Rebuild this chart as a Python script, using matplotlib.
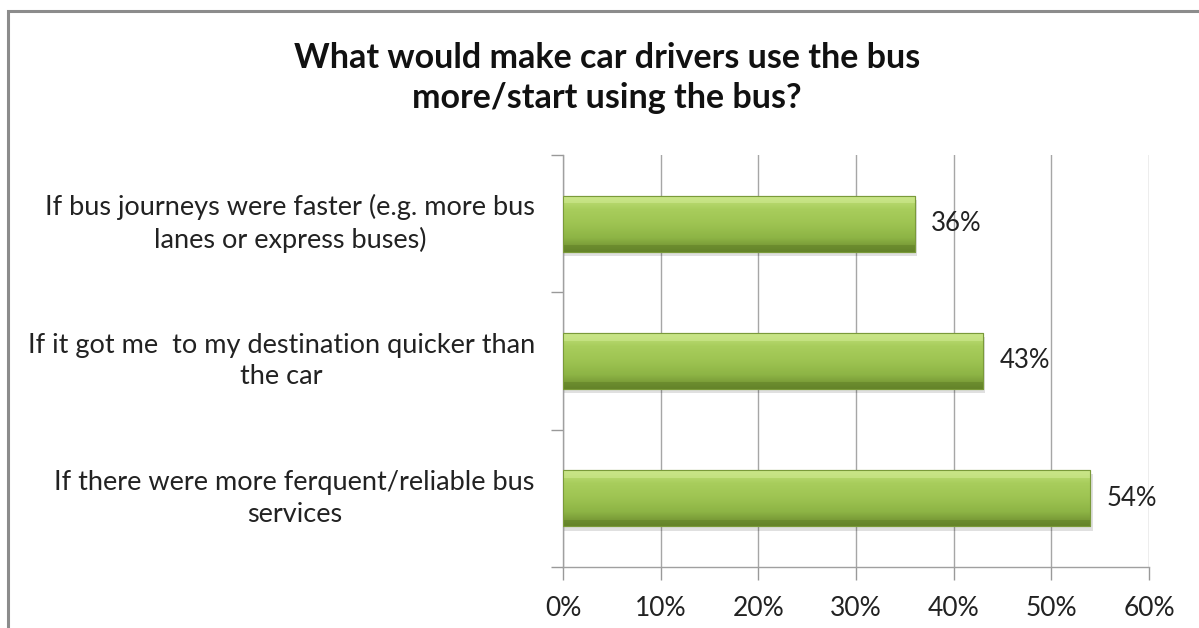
import matplotlib.pyplot as plt
import numpy as np
from matplotlib.colors import LinearSegmentedColormap
from matplotlib.patches import Rectangle

# =========================
# DATA
# =========================

categories = [
    "If there were more ferquent/reliable bus\nservices",
    "If it got me  to my destination quicker than\nthe car",
    "If bus journeys were faster (e.g. more bus\nlanes or express buses)",
]
values = [54, 43, 36]
x_ticks = [0, 10, 20, 30, 40, 50, 60]
title = "What would make car drivers use the bus\nmore/start using the bus?"

# =========================
# PLOT
# =========================

plt.rcParams["font.family"] = ["Lato", "DejaVu Sans"]

fig = plt.figure(figsize=(11.99, 6.28), dpi=100)
ax = fig.add_axes([563 / 1199, 1 - 567 / 628, 586 / 1199, 412 / 628])

# outer frame (chart area border)
fig.patches.append(Rectangle((8 / 1199, -0.1), 1.1, 1 - 11 / 628 + 0.1,
                             transform=fig.transFigure, fill=False,
                             edgecolor="#8c8c8c", linewidth=2.2))

pos = np.arange(len(categories)) + 0.5
bar_h = 0.41

cmap = LinearSegmentedColormap.from_list(
    "grn", ["#6b8a2e", "#8db445", "#9ec452", "#a8cd5c", "#c3e27e"])
grad = np.linspace(0, 1, 256).reshape(-1, 1)

# shadow
for p, v in zip(pos, values):
    ax.add_patch(Rectangle((0, p - bar_h / 2 - 0.03), v + 0.25, bar_h,
                           facecolor="#000000", alpha=0.12, edgecolor="none",
                           zorder=2))

bars = ax.barh(pos, values, height=bar_h, color="#9bc14e",
               edgecolor="#7a9a3a", linewidth=0.8, zorder=3)
for b in bars:
    x0, y0 = b.get_x(), b.get_y()
    w, h = b.get_width(), b.get_height()
    im = ax.imshow(grad, cmap=cmap, aspect="auto", origin="lower",
                   extent=[x0, x0 + w, y0, y0 + h], zorder=3.5)
    im.set_clip_path(b)
    # bevel highlight at top and darker strip at bottom
    ax.add_patch(Rectangle((x0, y0 + h * 0.86), w, h * 0.14,
                           facecolor="#d2eb94", alpha=0.55, edgecolor="none",
                           zorder=3.6))
    ax.add_patch(Rectangle((x0, y0), w, h * 0.12,
                           facecolor="#5c7a24", alpha=0.45, edgecolor="none",
                           zorder=3.6))
    ax.add_patch(Rectangle((x0, y0), w, h, fill=False,
                           edgecolor="#7a9a3a", linewidth=0.8, zorder=3.7))

for p, v in zip(pos, values):
    ax.text(v + 1.7, p, f"{v}%", va="center", ha="left", fontsize=18.5,
            color="#222222", zorder=5)

ax.set_xlim(0, 60)
ax.set_ylim(0, 3)
ax.set_xticks(x_ticks)
ax.set_xticklabels([f"{t}%" for t in x_ticks], fontsize=19, color="#222222")
ax.set_yticks([0, 1, 2, 3])
ax.set_yticklabels([])
ax.tick_params(axis="x", length=9, width=1, color="#999999", pad=12)
ax.tick_params(axis="y", length=9, width=1, color="#999999")

for p, c in zip(pos, categories):
    ax.text(-0.048, p, c, transform=ax.get_yaxis_transform(), ha="right",
            va="center", multialignment="center", fontsize=19.5,
            color="#222222", linespacing=1.32)

ax.grid(axis="x", color="#a6a6a6", linewidth=1, zorder=0)
ax.set_axisbelow(True)
for s in ["top", "right"]:
    ax.spines[s].set_visible(False)
for s in ["left", "bottom"]:
    ax.spines[s].set_color("#a0a0a0")
    ax.spines[s].set_linewidth(1)

fig.text(607 / 1199, 1 - 78 / 628, title, ha="center", va="center",
         fontsize=24.5, fontweight="bold", color="#111111", linespacing=1.34)

fig.savefig("out.png", dpi=100, facecolor="white")
